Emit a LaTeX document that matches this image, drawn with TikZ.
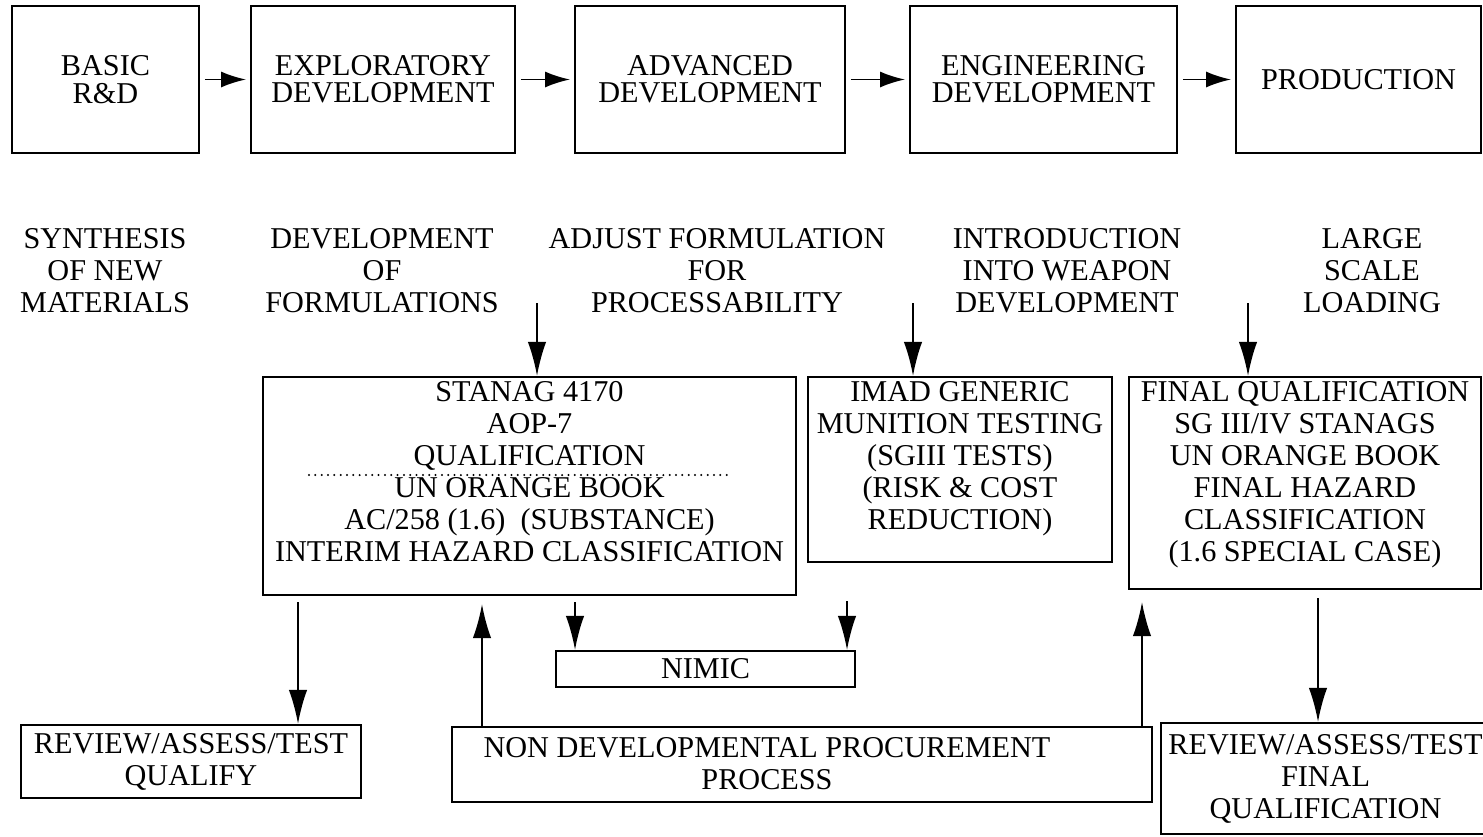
\documentclass[tikz,border=0pt]{standalone}
\usepackage{fontspec}
\setmainfont{Liberation Serif}
\usetikzlibrary{arrows.meta}

\newcommand{\boxfont}{\fontsize{21.5}{22.75}\selectfont}
\newcommand{\topfont}{\fontsize{21.5}{19.5}\selectfont}

\tikzset{
  stage/.style={draw, line width=1.5pt, minimum height=3.675cm, align=center, font=\topfont, inner sep=2pt},
  goal/.style={align=center, font=\boxfont, inner sep=2pt},
  testbox/.style={draw, line width=1.5pt},
  endbox/.style={draw, line width=1.5pt, align=center, font=\boxfont, inner sep=2pt},
  flow/.style={line width=1.3pt, -{Latex[length=0.62cm,width=0.4cm]}, shorten <=0.12cm, shorten >=0.1cm},
  feed/.style={line width=1.3pt, -{Latex[length=0.85cm,width=0.46cm]}},
  dotrule/.style={line width=1.6pt, line cap=round, dash pattern=on 0pt off 4.5pt},
}

\begin{document}
\begin{tikzpicture}[x=0.025cm, y=-0.025cm]
\useasboundingbox (0,0) rectangle (1483,836);

% phases
\node[stage, minimum width=4.675cm] (basic) at (105.5,79.5) {BASIC\\R\&D};
\node[stage, minimum width=6.6cm] (explor) at (383,79.5) {EXPLORATORY\\DEVELOPMENT};
\node[stage, minimum width=6.75cm] (adv) at (710,79.5) {ADVANCED\\DEVELOPMENT};
\node[stage, minimum width=6.675cm] (eng) at (1043.5,79.5) {ENGINEERING\\DEVELOPMENT};
\node[stage, minimum width=6.125cm] (prod) at (1358.5,79.5) {PRODUCTION};
\draw[flow] (basic.east) -- (explor.west);
\draw[flow] (explor.east) -- (adv.west);
\draw[flow] (adv.east) -- (eng.west);
\draw[flow] (eng.east) -- (prod.west);

% what is done in each phase
\node[goal] (synth) at (105,271) {SYNTHESIS\\OF NEW\\MATERIALS};
\node[goal] (formul) at (382,271) {DEVELOPMENT\\OF\\FORMULATIONS};
\node[goal] (adjust) at (717,271) {ADJUST FORMULATION\\FOR\\PROCESSABILITY};
\node[goal] (intro) at (1067,271) {INTRODUCTION\\INTO WEAPON\\DEVELOPMENT};
\node[goal] (large) at (1372,271) {LARGE\\SCALE\\LOADING};

% testing and qualification
\node[testbox, minimum width=13.325cm, minimum height=5.45cm] (stanag) at (529.5,486) {};
\node[goal, anchor=north] (stanagtxt) at ([yshift=-1.5pt]stanag.north) {STANAG 4170\\AOP-7\\QUALIFICATION\\UN ORANGE BOOK\\AC/258 (1.6)\ \ (SUBSTANCE)\\INTERIM HAZARD CLASSIFICATION};
\draw[dotrule] (309,475) -- (730,475);
\node[testbox, minimum width=7.6cm, minimum height=4.625cm] (imad) at (960,469.5) {};
\node[goal, anchor=north] (imadtxt) at ([yshift=-1.5pt]imad.north) {IMAD GENERIC\\MUNITION TESTING\\(SGIII TESTS)\\(RISK \& COST\\REDUCTION)};
\node[testbox, minimum width=8.8cm, minimum height=5.3cm] (final) at (1305,483) {};
\node[goal, anchor=north] (finaltxt) at ([yshift=-1.5pt]final.north) {FINAL QUALIFICATION\\SG III/IV STANAGS\\UN ORANGE BOOK\\FINAL HAZARD\\CLASSIFICATION\\(1.6 SPECIAL CASE)};

\node[endbox, minimum width=7.475cm, minimum height=0.9cm, inner sep=0pt] (nimic) at (705.5,669) {NIMIC};
\node[endbox, minimum width=8.5cm, minimum height=1.825cm] (rev1) at (191,761.5) {REVIEW/ASSESS/TEST\\QUALIFY};
\node[testbox, minimum width=17.5cm, minimum height=1.875cm] (ndp) at (802,764.5) {};
\node[goal] (ndptxt) at (767,764) {NON DEVELOPMENTAL PROCUREMENT\\PROCESS};
\node[endbox, minimum width=8.225cm, minimum height=2.775cm] (rev2) at (1325.5,778.5) {REVIEW/ASSESS/TEST\\FINAL\\QUALIFICATION};

% arrows
\coordinate (d1) at (537,303);
\coordinate (d2) at (913,303);
\coordinate (d3) at (1248,303);
\draw[feed] (d1) -- (d1 |- stanag.north);
\draw[feed] (d2) -- (d2 |- imad.north);
\draw[feed] (d3) -- (d3 |- final.north);

\coordinate (c1) at (298,0);
\coordinate (c2) at (482,0);
\coordinate (c3) at (575,0);
\coordinate (c4) at (847,0);
\coordinate (c5) at (1142,0);
\coordinate (c6) at (1318,0);
\draw[feed, shorten <=0.15cm] (stanag.south -| c1) -- (rev1.north -| c1);
\draw[feed, shorten >=0.2cm] (ndp.north -| c2) -- (stanag.south -| c2);
\draw[feed, shorten <=0.15cm] (stanag.south -| c3) -- (nimic.north -| c3);
\draw[feed, shorten <=0.95cm] (imad.south -| c4) -- (nimic.north -| c4);
\draw[feed, shorten >=0.3cm] (ndp.north -| c5) -- (final.south -| c5);
\draw[feed, shorten <=0.2cm] (final.south -| c6) -- (rev2.north -| c6);
\end{tikzpicture}
\end{document}
